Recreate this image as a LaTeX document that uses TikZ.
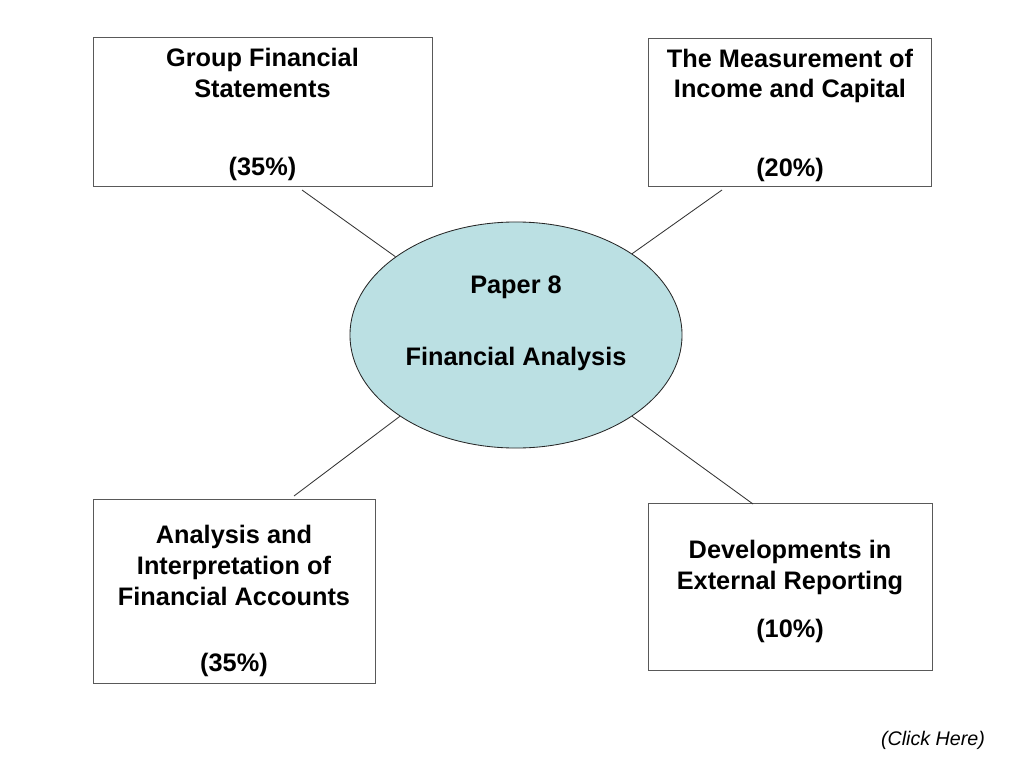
\documentclass[tikz,border=0pt]{standalone}
\usepackage{fontspec}
\setmainfont{Liberation Sans}
\usetikzlibrary{shapes.geometric}
\definecolor{paperblue}{RGB}{187,224,227}

\begin{document}
\begin{tikzpicture}[x=0.025cm,y=-0.025cm,line width=0.6pt,
  topic/.style={draw=black!65,rectangle,inner sep=0pt},
  topictext/.style={align=center,font=\bfseries\fontsize{18}{22}\selectfont},
  paper/.style={draw=black!85,fill=paperblue,ellipse,inner sep=0pt,minimum width=8.3cm,minimum height=5.65cm},
  spoke/.style={draw=black!80}]
  \useasboundingbox (0,0) rectangle (1024,768);
  \node[paper,label={[topictext,yshift=0.3cm]center:Paper 8\\[29pt]Financial Analysis}] (p8) at (516,335) {};
  \node[topic,minimum width=8.475cm,minimum height=3.725cm,
    label={[topictext,yshift=-0.075cm]center:Group Financial\\Statements\\[33.5pt](35\%)}] (gfs) at (262.5,111.5) {};
  \node[topic,minimum width=7.075cm,minimum height=3.7cm,
    label={[topictext,yshift=-0.075cm]center:The Measurement of\\Income and Capital\\[33.5pt](20\%)}] (mic) at (790,112) {};
  \node[topic,minimum width=7.05cm,minimum height=4.6cm,
    label={[topictext,yshift=-0.25cm]center:Analysis and\\Interpretation of\\Financial Accounts\\[25pt](35\%)}] (aifa) at (234,591) {};
  \node[topic,minimum width=7.1cm,minimum height=4.175cm,
    label={[topictext,yshift=-0.125cm]center:Developments in\\External Reporting\\[12pt](10\%)}] (der) at (790,586.5) {};
  \node[font=\itshape\fontsize{14}{16}\selectfont] (click) at (933,740) {(Click Here)};
  % loose ends of the spokes, just short of the boxes
  \coordinate (gfsend) at (302,190);
  \coordinate (micend) at (722,190);
  \coordinate (aifaend) at (294,496);
  \coordinate (derend) at (753,504);
  \path[spoke] (p8.147) -- (gfsend);
  \path[spoke] (p8.35) -- (micend);
  \path[spoke] (p8.215) -- (aifaend);
  \path[spoke] (p8.325) -- (derend);
\end{tikzpicture}
\end{document}
